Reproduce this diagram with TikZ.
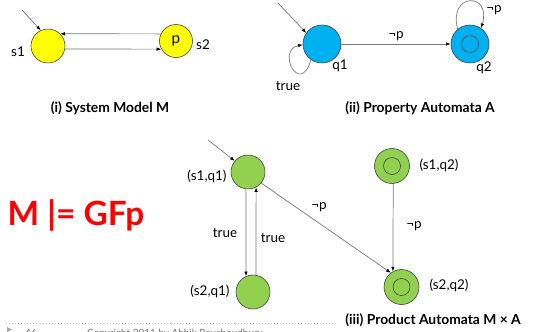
\documentclass[tikz,border=0pt]{standalone}
\usepackage{fontspec}
\setmainfont{Lato}
\usetikzlibrary{arrows.meta}

\definecolor{sysyellow}{RGB}{255,255,0}
\definecolor{propblue}{RGB}{0,176,240}
\definecolor{prodgreen}{RGB}{146,208,80}
\definecolor{rimgray}{RGB}{64,64,64}
\definecolor{linegray}{RGB}{120,120,120}

\tikzset{
  state/.style={circle,draw=rimgray,line width=0.5pt,inner sep=0pt,minimum size=1.02cm},
  accept/.style={state,path picture={\draw[rimgray,line width=0.5pt] (path picture bounding box.center) circle[radius=0.255cm];}},
  trans/.style={draw=linegray,line width=0.6pt,-{Latex[length=4pt,width=3pt,black]}},
  lbl/.style={inner sep=1pt,font=\fontsize{11.5}{13}\selectfont},
  caption/.style={inner sep=0pt,font=\fontsize{11.8}{13}\selectfont\bfseries}
}

\begin{document}
\begin{tikzpicture}[x=0.03cm,y=-0.03cm]
  \useasboundingbox (0,0) rectangle (536,331);

  % (i) system model
  \node[state,fill=sysyellow] (s1) at (48,46) {};
  \node[state,fill=sysyellow,minimum size=0.99cm,font=\fontsize{13}{14}\selectfont] (s2) at (176,41) {p};
  \node[lbl] (s1txt) at (18,52) {s1};
  \node[lbl] (s2txt) at (203,45) {s2};
  \coordinate (s1in) at (22,10);

  \draw[trans] (s1in) -- (s1.115);
  \draw[trans] (s2.155) -- (s1.45);
  \draw[trans] (s1.-10) -- (s2.209);

  \node[caption] (capi) at (110,108) {(i) System Model M};

  % (ii) property automaton
  \node[state,fill=propblue,minimum size=1.14cm] (q1) at (322,44) {};
  \node[accept,fill=propblue,minimum size=1.14cm] (q2) at (470,44) {};
  \node[lbl] (q1txt) at (340,66) {q1};
  \node[lbl] (q2txt) at (484,68) {q2};
  \coordinate (q1in) at (278,3);

  \draw[trans] (q1in) -- (q1.145);
  \draw[trans] (q1) -- node[lbl,above=1pt] (q1q2txt) {¬p} (q2);
  \draw[trans] (q1.235) .. controls (300,97) and (276,50) .. (q1.182);
  \node[lbl] (truetxt) at (288,86) {true};
  \draw[trans] (q2.130) .. controls (448,-8) and (492,-8) .. (q2.55);
  \node[lbl] (q2looptxt) at (494,10) {¬p};

  \node[caption] (capii) at (420,108) {(ii) Property Automata A};

  % (iii) product automaton
  \node[state,fill=prodgreen] (s1q1) at (248,172) {};
  \node[state,fill=prodgreen] (s2q1) at (253,292) {};
  \node[accept,fill=prodgreen,minimum size=1.05cm] (s1q2) at (392,166) {};
  \node[accept,fill=prodgreen,minimum size=1.05cm] (s2q2) at (401.5,287) {};
  \node[lbl] (s1q1txt) at (207,176) {(s1,q1)};
  \node[lbl] (s2q1txt) at (210,291) {(s2,q1)};
  \node[lbl] (s1q2txt) at (439,165) {(s1,q2)};
  \node[lbl] (s2q2txt) at (449,285) {(s2,q2)};
  \coordinate (s1q1in) at (208,140);

  \draw[trans] (s1q1in) -- (s1q1.140);
  \draw[trans] (s1q1.263) -- (s2q1.114);
  \draw[trans] (s2q1.80) -- (s1q1.298);
  \node[lbl] (truedown) at (225,233) {true};
  \node[lbl] (trueup) at (273,238) {true};
  \draw[trans] (s1q1.-40) -- (s2q2.127);
  \node[lbl] (diagtxt) at (319,207) {¬p};
  \draw[trans] (s1q2.274) -- (s2q2.119);
  \node[lbl] (verttxt) at (414,226) {¬p};

  \node[caption] (capiii) at (433,320) {(iii) Product Automata M × A};

  % the property, and the slide footer
  \node[inner sep=0pt,text=red,font=\fontsize{28.5}{31}\selectfont\bfseries] (goal) at (76,215) {M |= GFp};
  \draw[draw=black!25,dotted,line width=0.6pt] (6,323) -- (336,323);
  \fill[black!35] (7,327) -- (12,329.5) -- (7,332) -- cycle;
  \node[anchor=base west,inner sep=0pt,text=black!55,font=\fontsize{8.5}{10}\selectfont] (pageno) at (25,336) {46};
  \node[anchor=base west,inner sep=0pt,text=black!55,font=\fontsize{8.5}{10}\selectfont] (footer) at (87,336) {Copyright 2011 by Abhik Roychoudhury};
\end{tikzpicture}
\end{document}
